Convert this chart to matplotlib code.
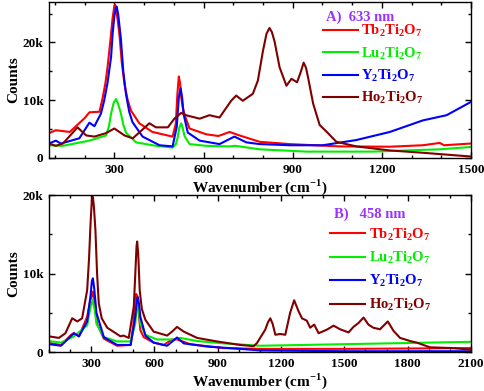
import numpy as np
import matplotlib.pyplot as plt
from matplotlib.ticker import MultipleLocator, FuncFormatter

plt.rcParams['font.family'] = 'Liberation Serif'
plt.rcParams['font.weight'] = 'bold'
plt.rcParams['mathtext.fontset'] = 'custom'
plt.rcParams['mathtext.rm'] = 'Liberation Serif:bold'
plt.rcParams['mathtext.bf'] = 'Liberation Serif:bold'

# ------------------------- data ---------------------------------------------------
names = [r'$\mathrm{Tb_2Ti_2O_7}$', r'$\mathrm{Lu_2Ti_2O_7}$',
         r'$\mathrm{Y_2Ti_2O_7}$', r'$\mathrm{Ho_2Ti_2O_7}$']
colors = ['#ff0000', '#00ee00', '#0000ff', '#800000']

# A) 633 nm  (wavenumber, counts)
tb_633_x = [80, 103, 150, 200, 216, 250, 261, 270, 277, 286, 294, 300, 303, 307, 312, 317, 325,
            334, 345, 356, 384, 428, 496, 507, 512, 517, 521, 525, 530, 536, 553, 609, 650, 688,
            721, 789, 890, 1058, 1227, 1338, 1395, 1410, 1500]
tb_633_y = [4300, 4800, 4500, 6900, 7900, 8000, 10500, 13000, 15700, 20000, 24200, 26300, 26500,
            25500, 23500, 21400, 16500, 12800, 10000, 8200, 6000, 4500, 3700, 6000, 11000, 14100,
            13000, 10500, 8800, 7500, 5100, 4100, 3800, 4500, 3900, 2800, 2400, 2000, 1950, 2200,
            2600, 2200, 2500]
lu_633_x = [80, 127, 216, 272, 282, 289, 298, 306, 313, 322, 330, 339, 373, 440, 496, 507, 512,
            519, 525, 531, 536, 553, 609, 688, 705, 721, 789, 946, 1170, 1395, 1500]
lu_633_y = [2200, 2100, 3000, 3900, 5500, 7700, 9600, 10200, 9300, 7700, 5800, 4400, 2700, 2100,
            1800, 2400, 3300, 5300, 6000, 5000, 3800, 2400, 2100, 2000, 2100, 2000, 1500, 1100,
            1100, 1500, 1900]
y_633_x = [80, 103, 120, 182, 216, 233, 255, 266, 277, 289, 294, 300, 305, 308, 313, 322, 330,
           339, 350, 361, 395, 452, 496, 510, 517, 523, 528, 533, 547, 587, 654, 704, 744, 789,
           890, 1001, 1114, 1227, 1338, 1418, 1500]
y_633_y = [2500, 3000, 2500, 3400, 6100, 5500, 7700, 10000, 13000, 17500, 21400, 24500, 26000,
           26200, 24800, 20600, 15000, 11100, 8000, 6200, 3700, 2200, 2000, 5400, 10500, 12100,
           10500, 7600, 4400, 3000, 2400, 3700, 2700, 2400, 2200, 2200, 3100, 4500, 6500, 7400,
           9700]
ho_633_x = [80, 103, 127, 176, 205, 233, 272, 300, 334, 362, 418, 440, 480, 502, 525, 541, 587,
            620, 654, 693, 710, 732, 766, 783, 800, 812, 822, 830, 839, 856, 879, 896, 915, 928,
            937, 945, 952, 969, 991, 1015, 1047, 1114, 1227, 1338, 1500]
ho_633_y = [2500, 2100, 2500, 5300, 3900, 3700, 4300, 5100, 3900, 3400, 6000, 5300, 5300, 6800,
            7800, 7400, 6800, 7400, 7000, 9900, 10800, 9900, 11100, 13400, 18500, 21500, 22500,
            21800, 20200, 15700, 12500, 13700, 13100, 15000, 16500, 15600, 13900, 9400, 5700,
            4500, 2800, 2000, 1300, 900, 250]

# B) 458 nm
tb_458_x = [100, 157, 205, 218, 242, 281, 295, 308, 318, 328, 360, 423, 487, 500, 507, 513, 518,
            525, 533, 549, 596, 644, 683, 707, 770, 927, 1101, 1500, 2100]
tb_458_y = [1150, 900, 2200, 2400, 2000, 4500, 6500, 7700, 5800, 3600, 1700, 800, 900, 3500,
            6700, 7400, 7200, 5000, 2800, 1900, 1200, 900, 1600, 1600, 1000, 500, 400, 400, 500]
lu_458_x = [100, 157, 218, 281, 296, 308, 317, 325, 360, 423, 487, 509, 515, 521, 527, 533, 557,
            612, 691, 723, 802, 927, 1101, 1500, 2100]
lu_458_y = [1400, 1200, 2000, 3400, 5600, 6700, 5300, 3600, 1900, 1350, 1350, 3600, 5400, 6000,
            5000, 3600, 2200, 1600, 1600, 1800, 1400, 1100, 800, 1000, 1300]
y_458_x = [100, 157, 218, 242, 281, 297, 303, 308, 314, 325, 360, 423, 487, 509, 516, 521, 527,
           533, 557, 596, 660, 707, 739, 849, 1007, 1101, 1500, 2100]
y_458_y = [1000, 800, 2400, 2000, 3900, 7200, 9000, 9400, 8200, 5000, 1900, 900, 900, 4500, 6600,
           7000, 6100, 4500, 2100, 1200, 800, 1850, 1100, 700, 400, 200, 100, 100]
ho_458_x = [100, 147, 178, 210, 234, 257, 281, 290, 297, 303, 308, 313, 320, 328, 336, 350, 376,
            439, 453, 478, 502, 510, 515, 518, 523, 530, 540, 557, 596, 660, 683, 707, 739, 802,
            896, 1007, 1070, 1086, 1125, 1138, 1149, 1160, 1173, 1196, 1220, 1243, 1262, 1283,
            1299, 1322, 1338, 1357, 1378, 1417, 1449, 1480, 1520, 1543, 1567, 1591, 1614, 1637,
            1669, 1706, 1733, 1764, 1812, 1843, 1906, 2016, 2100]
ho_458_y = [2000, 1800, 2400, 4300, 3900, 4300, 7900, 12000, 16400, 19300, 19800, 18500, 15600,
            10000, 6200, 4300, 3100, 2000, 2100, 1800, 5800, 10500, 13500, 14100, 12500, 7900,
            5500, 4100, 2600, 2100, 2600, 3200, 2600, 1800, 1350, 900, 750, 1150, 2850, 3800,
            4300, 3600, 2200, 2300, 2200, 5000, 6600, 5200, 4300, 4000, 3100, 3500, 2400, 2850,
            3360, 2900, 2500, 3200, 3700, 4400, 3500, 3100, 2900, 3900, 2700, 1800, 1400, 1200,
            600, 500, 300]

panel_a = [(tb_633_x, tb_633_y), (lu_633_x, lu_633_y), (y_633_x, y_633_y), (ho_633_x, ho_633_y)]
panel_b = [(tb_458_x, tb_458_y), (lu_458_x, lu_458_y), (y_458_x, y_458_y), (ho_458_x, ho_458_y)]
# ------------------------------------------------------------------------------------


def kfmt(v, pos):
    return '0' if v == 0 else '%dk' % (v / 1000)


def style_axes(ax, xlim, ylim):
    ax.set_xlim(*xlim)
    ax.set_ylim(*ylim)
    ax.xaxis.set_major_locator(MultipleLocator(300))
    ax.xaxis.set_minor_locator(MultipleLocator(100))
    ax.yaxis.set_major_locator(MultipleLocator(10000))
    ax.yaxis.set_minor_locator(MultipleLocator(5000))
    ax.yaxis.set_major_formatter(FuncFormatter(kfmt))
    ax.tick_params(which='both', direction='in', top=True, right=True, labelsize=9.5, width=1)
    ax.tick_params(which='major', length=4.5, pad=4)
    ax.tick_params(which='minor', length=2.5)
    for lab in ax.get_xticklabels() + ax.get_yticklabels():
        lab.set_fontweight('bold')
    for sp in ax.spines.values():
        sp.set_linewidth(1)
    ax.set_xlabel(r'Wavenumber (cm$^{\mathbf{-1}}$)', fontsize=11, fontweight='bold', labelpad=1)
    ax.set_ylabel('Counts', fontsize=11, fontweight='bold', labelpad=2)


fig = plt.figure(figsize=(4.85, 3.91), dpi=100)
ax1 = fig.add_axes([0.101, 0.596, 0.870, 0.399])
ax2 = fig.add_axes([0.101, 0.0997, 0.870, 0.401])

for (x, y), c, n in zip(panel_a, colors, names):
    ax1.plot(x, y, color=c, lw=1.5, label=n)
for (x, y), c, n in zip(panel_b, colors, names):
    ax2.plot(x, y, color=c, lw=1.5, label=n)

style_axes(ax1, (80, 1500), (0, 27000))
style_axes(ax2, (100, 2100), (0, 20000))

ax1.text(0.737, 0.904, 'A)  633 nm', transform=ax1.transAxes, color='#9933ff',
         fontsize=10.5, fontweight='bold', ha='center', va='center')
ax2.text(0.761, 0.879, 'B)   458 nm', transform=ax2.transAxes, color='#9933ff',
         fontsize=10.5, fontweight='bold', ha='center', va='center')

ax1.legend(loc='upper left', bbox_to_anchor=(0.649, 0.863), frameon=False, fontsize=10.5,
           labelcolor='linecolor', handlelength=2.4, handletextpad=0.25,
           labelspacing=0.42, borderpad=0, borderaxespad=0)
ax2.legend(loc='upper left', bbox_to_anchor=(0.667, 0.80), frameon=False, fontsize=10.5,
           labelcolor='linecolor', handlelength=2.4, handletextpad=0.25,
           labelspacing=0.5, borderpad=0, borderaxespad=0)

fig.savefig('out.png', dpi=100)
